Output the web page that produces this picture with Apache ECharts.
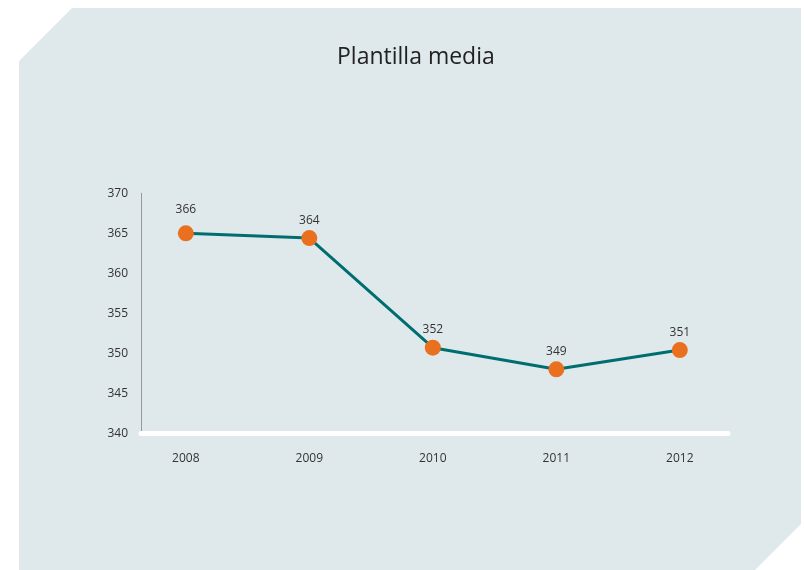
<!DOCTYPE html>
<html>
<head>
<meta charset="utf-8">
<script src="https://cdn.jsdelivr.net/npm/echarts@6/dist/echarts.min.js"></script>
<style>
  html, body { margin: 0; padding: 0; background: #fff; }
  #main { width: 804px; height: 570px; }
</style>
</head>
<body>
<div id="main"></div>
<script>
// datos
const years = [2008, 2009, 2010, 2011, 2012]
const plotted = [365.0, 364.4, 350.7, 348.0, 350.4]
const labels = ['366', '364', '352', '349', '351']
const yTicks = [340, 345, 350, 355, 360, 365, 370]

const chart = echarts.init(document.getElementById('main'))

const seriesData = years.map((y, i) => {
  const item = { value: [y, plotted[i]], label: { formatter: labels[i] } }
  // la primera etiqueta queda algo más alta en el original
  if (i === 0) item.label.distance = 10
  return item
})

const option = {
  animation: false,
  textStyle: { fontFamily: 'Open Sans' },
  graphic: [
    {
      type: 'polygon',
      z: -10,
      silent: true,
      shape: {
        points: [[72, 8], [801, 8], [801, 524], [755, 570], [19, 570], [19, 61]]
      },
      style: { fill: '#dfe9eb' }
    }
  ],
  title: {
    text: 'Plantilla media',
    left: 332,
    top: 41,
    textStyle: { fontFamily: 'Open Sans', fontSize: 23, fontWeight: 'normal', color: '#222' }
  },
  grid: { left: 141, right: 76, top: 193.3, bottom: 136.7 },
  xAxis: {
    type: 'value',
    min: 2007.637,
    max: 2012.39,
    splitLine: { show: false },
    axisLine: { show: true, lineStyle: { color: '#fff', width: 5 } },
    axisTick: { show: false },
    axisLabel: {
      customValues: years,
      margin: 19,
      fontSize: 12,
      color: '#333',
      formatter: v => String(v)
    }
  },
  yAxis: {
    type: 'value',
    min: 340,
    max: 370,
    interval: 5,
    splitLine: { show: false },
    axisLine: { show: true, lineStyle: { color: '#999', width: 1 } },
    axisTick: { show: false },
    axisLabel: {
      customValues: yTicks,
      margin: 13,
      fontSize: 12,
      color: '#333'
    }
  },
  series: [
    {
      type: 'line',
      data: seriesData,
      symbol: 'circle',
      symbolSize: 16,
      lineStyle: { color: '#006e70', width: 3 },
      itemStyle: { color: '#e8701f' },
      label: {
        show: true,
        position: 'top',
        distance: 4,
        fontSize: 12,
        color: '#333'
      }
    }
  ]
}

chart.setOption(option)
</script>
</body>
</html>
